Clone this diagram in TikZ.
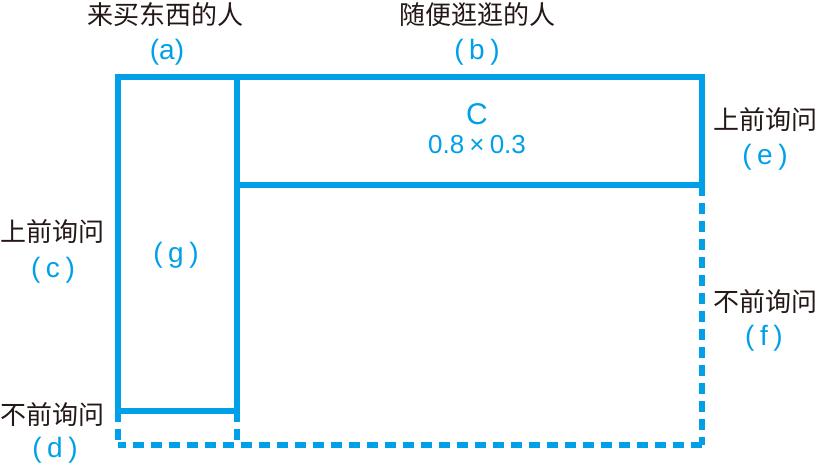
\documentclass[tikz,border=0pt]{standalone}
\usepackage{fontspec}
\setmainfont{Liberation Sans}
\newfontfamily\cjk{Noto Sans CJK SC}
\definecolor{lineblue}{RGB}{0,160,233}
\definecolor{txtblack}{RGB}{35,24,21}
\begin{document}
\begin{tikzpicture}[x=1pt,y=-1pt,
  solidline/.style={draw=lineblue,line width=5.5pt,line join=miter},
  dashline/.style={draw=lineblue,line width=5.5pt,dash pattern=on 11pt off 7pt},
  cnlabel/.style={text=txtblack,font=\cjk\fontsize{26}{28}\selectfont,inner sep=0pt},
  bluelabel/.style={text=lineblue,font=\fontsize{28}{30}\selectfont,inner sep=0pt}]
\useasboundingbox (0,0) rectangle (818,464);
% corners
\coordinate (tl) at (118,77);
\coordinate (tm) at (237,77);
\coordinate (tr) at (702,77);
\coordinate (cr) at (702,185);
\coordinate (cl) at (237,185);
\coordinate (gl) at (118,411);
\coordinate (gr) at (237,411);
\coordinate (bl) at (118,445);
\coordinate (bm) at (237,445);
\coordinate (br) at (702,445);
% solid lines
\draw[solidline] (gl) -- (tl) -- (tr) -- (cr) -- (cl);
\draw[solidline] (tm) -- (gr) -- (gl);
% dashed lines
\draw[dashline] (cr) -- (br);
\draw[dashline] (br) -- (bl);
\draw[dashline] (gl) -- (bl);
\draw[dashline] (gr) -- (bm);
% labels
\node[cnlabel] (ta) at (165,15) {来买东西的人};
\node[bluelabel] (la) at (167,52) {(a)};
\node[cnlabel] (tb) at (477,15) {随便逛逛的人};
\node[bluelabel] (lb) at (477,52) {(\hspace{0.2em}b\hspace{0.2em})};
\node[text=lineblue,font=\fontsize{30}{34}\selectfont,inner sep=0pt] (lC) at (477,114) {C};
\node[bluelabel,font=\fontsize{26}{28}\selectfont] (lval) at (477,145) {0.8\hspace{0.2em}×\hspace{0.2em}0.3};
\node[cnlabel] (te) at (765,120) {上前询问};
\node[bluelabel] (le) at (765,157) {(\hspace{0.2em}e\hspace{0.2em})};
\node[cnlabel] (tc) at (52,232) {上前询问};
\node[bluelabel] (lc) at (53,270) {(\hspace{0.2em}c\hspace{0.2em})};
\node[bluelabel] (lg) at (176,255) {(\hspace{0.2em}g\hspace{0.2em})};
\node[cnlabel] (tf) at (765,302) {不前询问};
\node[bluelabel] (lf) at (764,338) {(\hspace{0.2em}f\hspace{0.2em})};
\node[cnlabel] (td) at (52,415) {不前询问};
\node[bluelabel] (ld) at (55,450) {(\hspace{0.2em}d\hspace{0.2em})};
\end{tikzpicture}
\end{document}
